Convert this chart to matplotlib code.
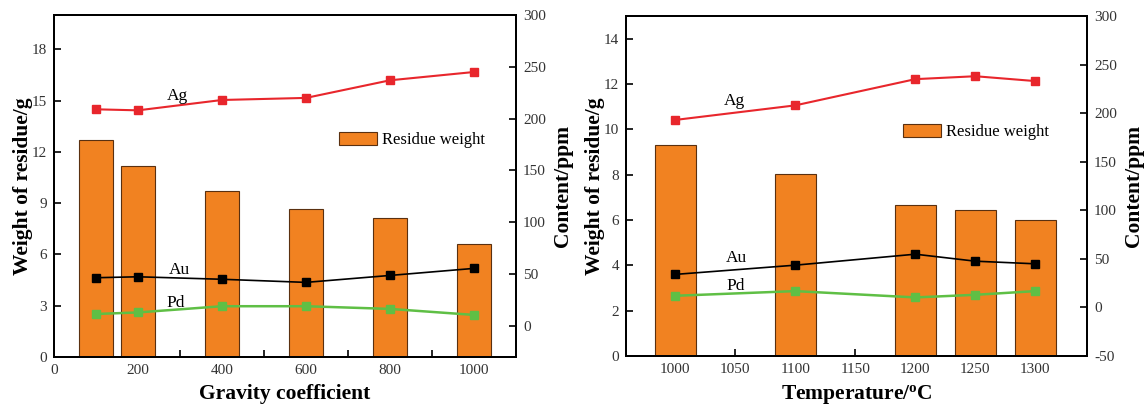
import numpy as np
import matplotlib.pyplot as plt

plt.rcParams['font.family'] = ['Liberation Serif', 'DejaVu Serif']
plt.rcParams['axes.unicode_minus'] = False

# ── Data: gravity coefficient panel ──────────────────────────────────────────
gravity = [100, 200, 400, 600, 800, 1000]
g_residue = [12.7, 11.15, 9.7, 8.67, 8.1, 6.62]
g_ag = [209, 208, 218, 220, 237, 245]
g_au = [46.5, 47.4, 45, 42, 48.7, 55.5]
g_pd = [11.5, 13, 19, 19, 16.4, 10.6]

# ── Data: temperature panel ──────────────────────────────────────────────────
temps = [1000, 1100, 1200, 1250, 1300]
t_residue = [9.3, 8.05, 6.65, 6.43, 6.02]
t_ag = [193, 208, 235, 238, 233]
t_au = [34, 43.5, 54.8, 47.6, 44.9]
t_pd = [12, 16.8, 10.3, 13, 16.8]

BAR_C = '#f18221'
RED = '#e8262c'
GREEN = '#5fbf45'
TICK_C = '#333333'


def style_axis(ax):
    for s in ax.spines.values():
        s.set_linewidth(1.4)
    ax.tick_params(direction='in', length=5, width=1.2, labelsize=11,
                   labelcolor=TICK_C, pad=5)


def panel(ax, x, residue, ag, au, pd, bar_w, xlim, xticks, xlabels,
          ylim, yticks, y2lim, y2ticks, xlabel, txt_pos, leg_anchor):
    bars = ax.bar(x, residue, width=bar_w, color=BAR_C, edgecolor='#5a3010',
                  linewidth=0.8, label='Residue weight', zorder=2)
    ax.set_xlim(*xlim)
    ax.set_ylim(*ylim)
    ax.set_xticks(xticks)
    ax.set_xticklabels(xlabels)
    ax.set_yticks(yticks)
    ax.set_xlabel(xlabel, fontsize=15.5, fontweight='bold', labelpad=5)
    ax.set_ylabel('Weight of residue/g', fontsize=15.5, fontweight='bold',
                  labelpad=-1)
    style_axis(ax)

    ax2 = ax.twinx()
    ax2.plot(x, ag, color=RED, marker='s', ms=6, lw=1.5, zorder=3)
    ax2.plot(x, au, color='black', marker='s', ms=6, lw=1.2, zorder=3)
    ax2.plot(x, pd, color=GREEN, marker='s', ms=6, lw=1.8, zorder=3)
    ax2.set_ylim(*y2lim)
    ax2.set_yticks(y2ticks)
    ax2.set_ylabel('Content/ppm', fontsize=15.5, fontweight='bold', labelpad=5)
    style_axis(ax2)

    for name, (tx, ty) in zip(['Ag', 'Au', 'Pd'], txt_pos):
        ax2.text(tx, ty, name, fontsize=12.5, ha='center', va='center')

    ax2.legend(handles=[bars], loc='center left', bbox_to_anchor=leg_anchor,
               frameon=False, fontsize=12, handlelength=2.3,
               handleheight=0.85, handletextpad=0.3, borderpad=0,
               borderaxespad=0)


fig = plt.figure(figsize=(11.44, 4.07), dpi=100)
axL = fig.add_axes([54 / 1144, 50 / 407, 462 / 1144, 342 / 407])
axR = fig.add_axes([626 / 1144, 51 / 407, 461 / 1144, 340 / 407])

panel(axL, gravity, g_residue, g_ag, g_au, g_pd, 80,
      (0, 1100), np.arange(0, 1100, 100),
      [str(v) if v % 200 == 0 else '' for v in range(0, 1100, 100)],
      (0, 20), np.arange(0, 19, 3), (-30, 300), np.arange(0, 301, 50),
      'Gravity coefficient',
      [(295, 222), (298, 54), (290, 22)], (0.617, 0.635))

panel(axR, temps, t_residue, t_ag, t_au, t_pd, 34,
      (959, 1343), np.arange(1000, 1301, 50),
      [str(v) for v in range(1000, 1301, 50)],
      (0, 15), np.arange(0, 15, 2), (-50, 300), np.arange(-50, 301, 50),
      'Temperature/$\\mathregular{^o}$C',
      [(1049, 213), (1050.6, 50.7), (1050, 22)], (0.601, 0.659))

fig.savefig('out.png', dpi=100, facecolor='white')
